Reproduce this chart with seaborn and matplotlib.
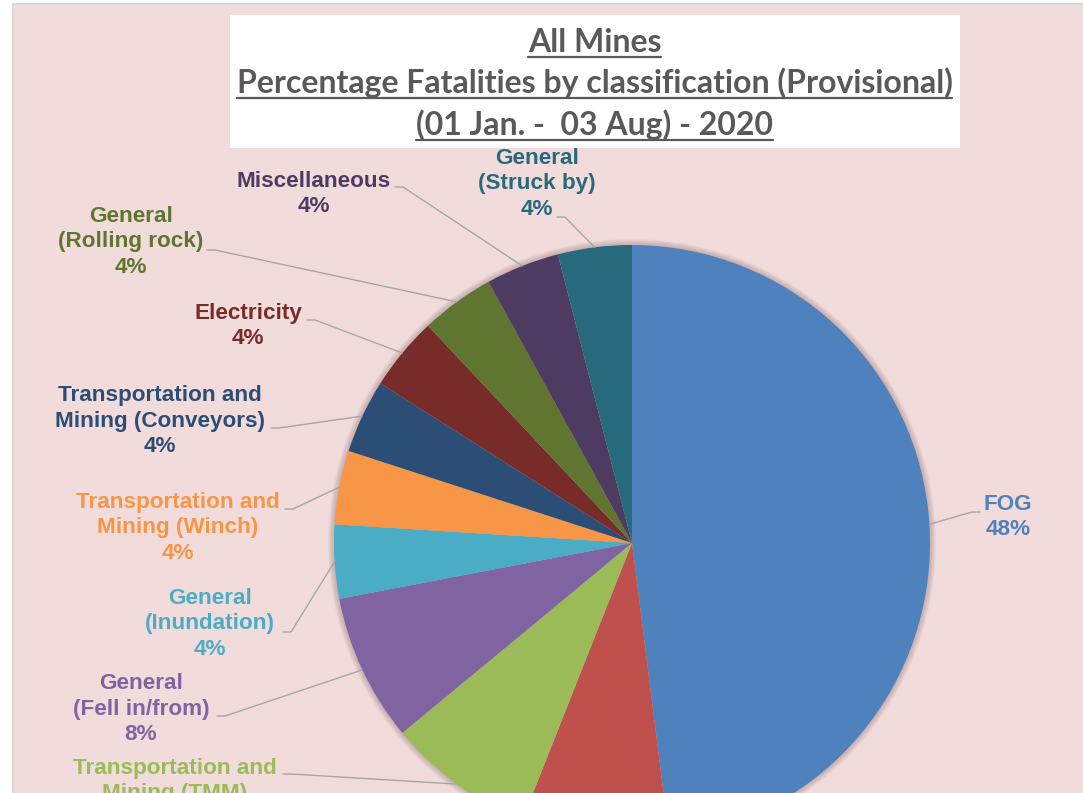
import matplotlib
matplotlib.use("Agg")
import matplotlib.pyplot as plt
from matplotlib.patches import Rectangle, Circle
import numpy as np
import seaborn as sns

# ----------------------------
# DATA (fatalities, 01 Jan - 03 Aug 2020)
# ----------------------------
categories = [
    "FOG",
    "Machinery",
    "Transportation and\nMining (TMM)",
    "General\n(Fell in/from)",
    "General\n(Inundation)",
    "Transportation and\nMining (Winch)",
    "Transportation and\nMining (Conveyors)",
    "Electricity",
    "General\n(Rolling rock)",
    "Miscellaneous",
    "General\n(Struck by)",
]
fatalities = [12, 2, 2, 2, 1, 1, 1, 1, 1, 1, 1]
slice_colors = ["#4F81BD", "#C0504D", "#9BBB59", "#8064A2", "#4BACC6", "#F79646",
                "#2C4D75", "#772C2A", "#5F7530", "#4D3B62", "#276A7C"]
title_lines = ["All Mines",
               "Percentage Fatalities by classification (Provisional)",
               "(01 Jan. -  03 Aug) - 2020"]

# ----------------------------
# LAYOUT (pixel coords, y measured from top)
# ----------------------------
W, H = 1083, 793
label_pos = [(1008, 517), None, (175, 794), (141, 709), (210, 624), (178, 528),
             (160, 421), (248, 326), (131, 242), (314, 194), (537, 184)]
leader_start = [(980, 512), None, (283, 774), (217, 716), (283, 632), (285, 509),
                (271, 428), (307, 320), (207, 250), (395, 187), (557, 217)]
title_y = [42, 83, 125]
underline_y = [57, 98, 140]


def py(y):
    return H - y


sns.set_style("white")
plt.rcParams["font.family"] = ["Liberation Sans", "DejaVu Sans"]

fig = plt.figure(figsize=(W / 100, H / 100), dpi=100)
fig.patch.set_facecolor("white")
ax = fig.add_axes([0, 0, 1, 1])

# background panel
ax.add_patch(Rectangle((13, 0), W - 13, py(4), color="#F2DCDB", zorder=0, lw=0))
ax.plot([12.5, 12.5], [0, py(3.5)], color="#D9D9D9", lw=1.4, zorder=0.2)
ax.plot([12.5, W], [py(3.5), py(3.5)], color="#D9D9D9", lw=1.4, zorder=0.2)

# pie
cx, cy, r = 632, py(543), 298
for k in range(6, 0, -1):
    ax.add_patch(Circle((cx, cy), r + k, color="#8a6a6a", alpha=0.07, lw=0, zorder=0.5))

wedges, _ = ax.pie(fatalities, colors=slice_colors, startangle=90, counterclock=False,
                   center=(cx, cy), radius=r, wedgeprops=dict(linewidth=0))

total = sum(fatalities)
for w, cat, val, col, lp, ls in zip(wedges, categories, fatalities, slice_colors,
                                     label_pos, leader_start):
    if lp is None:
        continue
    ang = np.deg2rad((w.theta1 + w.theta2) / 2)
    ex, ey = cx + r * np.cos(ang), cy + r * np.sin(ang)
    sx, sy = ls[0], py(ls[1])
    elbow = sx + (8 if sx < cx else -8)
    ax.plot([sx, elbow, ex], [sy, sy, ey], color="#A6A6A6", lw=1.0, zorder=3)
    ax.text(lp[0], py(lp[1]), f"{cat}\n{round(val / total * 100)}%", ha="center",
            va="center", multialignment="center", color=col, fontsize=16.2,
            fontweight="bold", linespacing=1.3, zorder=4)

# title box
ax.add_patch(Rectangle((230, py(148)), 730, 133, color="white", lw=0, zorder=2))
title_texts = []
for line, ty in zip(title_lines, title_y):
    t = ax.text(594.5, py(ty), line, ha="center", va="center", color="#595959",
                fontsize=20, fontweight="bold", family=["Lato", "DejaVu Sans"], zorder=5)
    title_texts.append(t)

ax.set_xlim(0, W)
ax.set_ylim(0, H)
ax.set_aspect("auto")
ax.axis("off")

fig.canvas.draw()
renderer = fig.canvas.get_renderer()
scale = 717 / title_texts[1].get_window_extent(renderer).width
for t in title_texts:
    t.set_fontsize(t.get_fontsize() * scale)
fig.canvas.draw()
for t, uy in zip(title_texts, underline_y):
    bb = t.get_window_extent(renderer)
    ax.plot([bb.x0, bb.x1], [py(uy), py(uy)], color="#595959", lw=1.6, zorder=5)

fig.savefig("out.png", dpi=100)
